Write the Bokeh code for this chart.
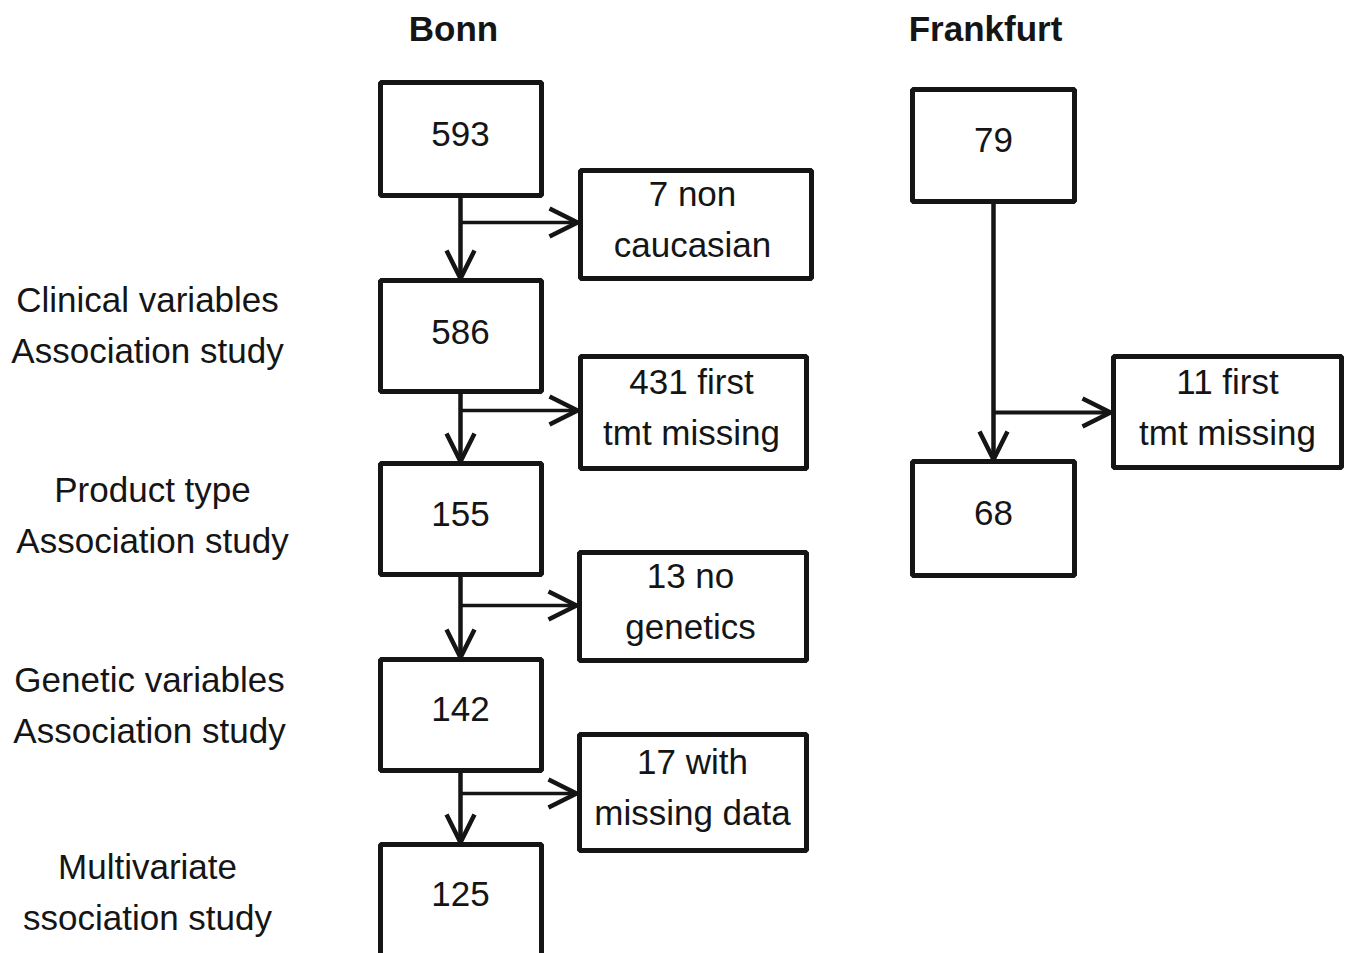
from bokeh.plotting import figure
from bokeh.models import Range1d, Arrow, OpenHead
from bokeh.core.properties import value
from bokeh.embed import file_html
from bokeh.resources import INLINE

# ---- data ----
site_titles = ["Bonn", "Frankfurt"]
bonn_counts = ["593", "586", "155", "142", "125"]
bonn_exclusions = [["7 non", "caucasian"], ["431 first", "tmt missing"],
                   ["13 no", "genetics"], ["17 with", "missing data"]]
frankfurt_counts = ["79", "68"]
frankfurt_exclusions = [["11 first", "tmt missing"]]
stage_labels = [["Clinical variables", "Association study"],
                ["Product type", "Association study"],
                ["Genetic variables", "Association study"],
                ["Multivariate", "ssociation study"]]

# ---- layout (pixel space of the page) ----
bonn_x = (380, 541)
bonn_y = [(82, 195), (280, 391), (463, 574), (659, 770), (844, 990)]
bonn_ex_x = [(580, 811), (580, 806), (579, 806), (579, 806)]
bonn_ex_y = [(170, 278), (356, 468), (552, 660), (734, 850)]
bonn_arrow_y = [222, 410, 605, 793]
fr_x = (912, 1074)
fr_y = [(89, 201), (461, 575)]
fr_ex_x = [(1113, 1341)]
fr_ex_y = [(356, 467)]
fr_arrow_y = [412]
label_x = [147, 152, 149, 147]
label_y = [(299, 350), (489, 540), (679, 730), (866, 917)]
bonn_count_y = [133, 331, 513, 708, 893]
fr_count_y = [139, 512]
ex_text_x = [692, 691, 690, 692]
ex_text_y = [(193, 244), (381, 432), (575, 626), (761, 812)]

W, H = 1347, 953
p = figure(width=W, height=H, x_range=Range1d(0, W), y_range=Range1d(H, 0),
           output_backend="svg", toolbar_location=None,
           x_axis_location=None, y_axis_location=None, min_border=0)
p.grid.visible = False
p.outline_line_color = None
p.background_fill_color = "white"

FONT = value("Liberation Sans")
INK = "#151515"

# boxes
L, R, T, B = [], [], [], []
for (t, b) in bonn_y:
    L.append(bonn_x[0]); R.append(bonn_x[1]); T.append(t); B.append(b)
for (l, r), (t, b) in zip(bonn_ex_x, bonn_ex_y):
    L.append(l); R.append(r); T.append(t); B.append(b)
for (t, b) in fr_y:
    L.append(fr_x[0]); R.append(fr_x[1]); T.append(t); B.append(b)
for (l, r), (t, b) in zip(fr_ex_x, fr_ex_y):
    L.append(l); R.append(r); T.append(t); B.append(b)
p.quad(left=L, right=R, top=T, bottom=B, fill_color=None,
       line_color=INK, line_width=5)

# arrows
def head():
    return OpenHead(size=28, line_width=4.5, line_color=INK)

cx = (bonn_x[0] + bonn_x[1]) / 2 - 0.5
for i in range(len(bonn_y) - 1):
    p.add_layout(Arrow(end=head(), x_start=cx, y_start=bonn_y[i][1] + 2,
                       x_end=cx, y_end=bonn_y[i + 1][0] - 2,
                       line_width=4.5, line_color=INK))
for i, ay in enumerate(bonn_arrow_y):
    p.add_layout(Arrow(end=head(), x_start=cx, y_start=ay,
                       x_end=bonn_ex_x[i][0] - 3, y_end=ay,
                       line_width=3.5, line_color=INK))
fx = (fr_x[0] + fr_x[1]) / 2
p.add_layout(Arrow(end=head(), x_start=fx, y_start=fr_y[0][1] + 2,
                   x_end=fx, y_end=fr_y[1][0] - 2, line_width=4.5, line_color=INK))
for i, ay in enumerate(fr_arrow_y):
    p.add_layout(Arrow(end=head(), x_start=fx, y_start=ay,
                       x_end=fr_ex_x[i][0] - 3, y_end=ay,
                       line_width=4, line_color=INK))

# texts
tx, ty, tt = [], [], []
for c, y in zip(bonn_counts, bonn_count_y):
    tx.append(cx); ty.append(y); tt.append(c)
for c, y in zip(frankfurt_counts, fr_count_y):
    tx.append(fx); ty.append(y); tt.append(c)
for lines, x, ys in zip(bonn_exclusions, ex_text_x, ex_text_y):
    for s, y in zip(lines, ys):
        tx.append(x); ty.append(y); tt.append(s)
for lines in frankfurt_exclusions:
    for s, y in zip(lines, (381, 432)):
        tx.append(1227); ty.append(y); tt.append(s)
for lines, x, ys in zip(stage_labels, label_x, label_y):
    for s, y in zip(lines, ys):
        tx.append(x); ty.append(y); tt.append(s)
p.text(x=tx, y=ty, text=tt, text_font=FONT, text_font_size="35px",
       text_color=INK, text_align="center", text_baseline="middle")

p.text(x=[453, 985], y=[28, 28], text=site_titles, text_font=FONT,
       text_font_size="35px", text_font_style="bold", text_color=INK,
       text_align="center", text_baseline="middle")

open("out.html", "w").write(file_html(p, INLINE))
